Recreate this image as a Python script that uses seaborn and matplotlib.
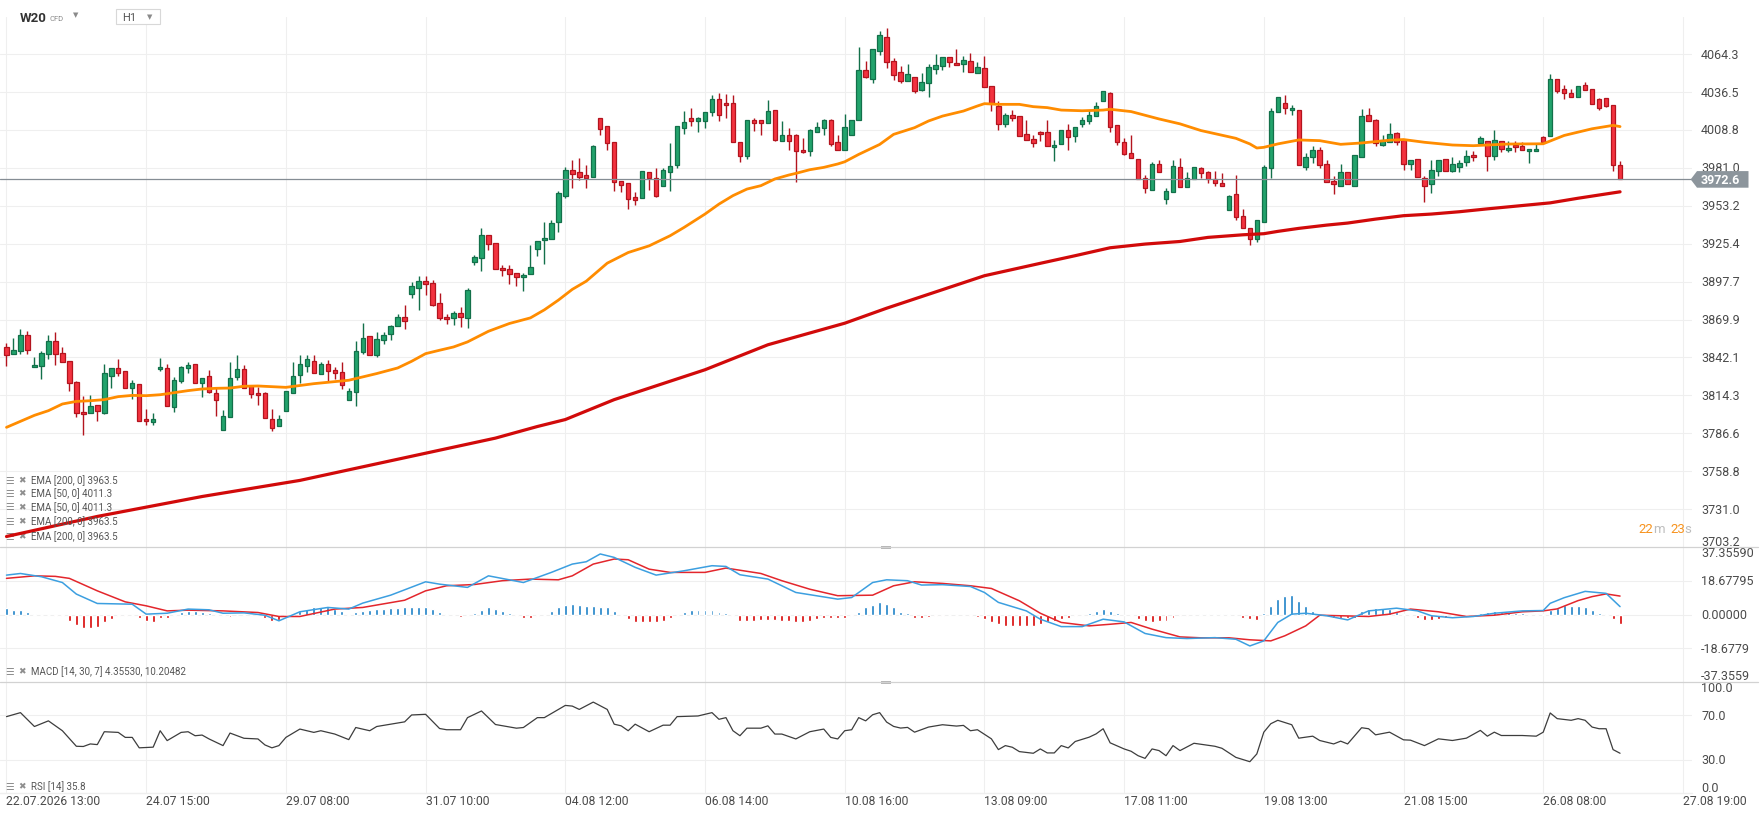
import numpy as np
import pandas as pd
import matplotlib
matplotlib.use("Agg")
import matplotlib.pyplot as plt
import matplotlib.transforms as mtransforms
from matplotlib.patches import Polygon, Rectangle
from matplotlib.lines import Line2D
import seaborn as sns

# hourly candles (oldest first)
opens = [
    3849.6, 3844.5, 3846.6, 3858.4, 3834.9, 3835.6, 3844.5, 3854.0, 3845.2, 3839.3,
    3823.9, 3801.9, 3801.1, 3807.0, 3801.1, 3828.3, 3834.2, 3832.0, 3819.5, 3822.4,
    3796.7, 3794.5, 3833.4, 3834.2, 3805.5, 3824.6, 3834.2, 3837.1, 3823.2, 3828.3,
    3815.8, 3788.7, 3798.2, 3827.6, 3833.4, 3821.0, 3815.8, 3815.8, 3796.7, 3791.6,
    3802.6, 3816.1, 3829.0, 3835.9, 3839.6, 3830.0, 3837.4, 3833.0, 3831.5, 3810.7,
    3816.8, 3846.2, 3857.9, 3844.0, 3855.0, 3859.4, 3865.3, 3872.1, 3888.7, 3893.1,
    3897.8, 3896.8, 3882.1, 3871.9, 3871.1, 3874.8, 3871.1, 3912.2, 3915.2, 3932.1,
    3926.2, 3907.8, 3907.1, 3904.2, 3901.2, 3903.4, 3921.8, 3928.4, 3928.6, 3941.6,
    3960.6, 3979.2, 3977.8, 3975.6, 3974.6, 4017.4, 4011.5, 3999.8, 3971.2, 3969.7,
    3959.4, 3959.2, 3977.8, 3973.4, 3968.0, 3977.8, 3983.4, 4010.6, 4017.4, 4015.2,
    4015.7, 4021.8, 4031.4, 4028.4, 4028.4, 3999.8, 3989.5, 4015.9, 4015.9, 4013.7,
    4023.3, 4000.5, 4004.9, 4004.9, 3993.9, 3993.2, 4007.1, 4010.1, 4015.8, 4000.2,
    3994.3, 4005.3, 4016.3, 4053.0, 4046.4, 4067.0, 4077.3, 4059.7, 4051.6, 4045.0,
    4047.9, 4038.4, 4043.5, 4053.8, 4056.0, 4062.6, 4058.2, 4057.4, 4059.7, 4050.8,
    4054.5, 4041.3, 4026.6, 4013.4, 4020.0, 4019.3, 4006.0, 4002.4, 4007.5, 4007.5,
    3996.5, 3998.7, 4009.0, 4004.6, 4013.4, 4015.6, 4019.3, 4030.3, 4036.2, 4012.3,
    3999.8, 3991.7, 3987.3, 3973.4, 3964.6, 3983.6, 3958.0, 3963.1, 3981.4, 3966.8,
    3972.6, 3980.7, 3977.8, 3972.6, 3969.7, 3949.9, 3961.6, 3945.5, 3936.7, 3928.6,
    3941.1, 3980.7, 4021.8, 4028.4, 4023.3, 4023.3, 3981.4, 3988.8, 3993.9, 3983.6,
    3971.2, 3967.5, 3977.8, 3967.5, 3988.8, 4019.6, 4015.9, 3997.6, 3999.8, 4006.4,
    4001.3, 3983.6, 3987.3, 3973.4, 3969.0, 3978.5, 3987.3, 3978.5, 3981.4, 3985.1,
    3990.3, 3999.1, 4000.5, 3989.4, 4000.7, 3994.1, 3997.7, 3997.0, 3993.3, 3993.3,
    4003.6, 4004.3, 4046.4, 4038.8, 4035.9, 4033.0, 4041.8, 4038.8, 4031.5, 4032.2,
    4027.1, 3983.5,
]
highs = [
    3852.8, 3856.4, 3863.0, 3861.3, 3842.2, 3846.6, 3858.6, 3860.8, 3849.6, 3839.3,
    3824.6, 3813.6, 3814.3, 3807.0, 3837.1, 3834.2, 3840.8, 3832.0, 3825.4, 3822.4,
    3804.1, 3801.1, 3841.5, 3837.1, 3827.6, 3835.6, 3838.6, 3837.1, 3826.8, 3832.7,
    3820.2, 3803.3, 3838.6, 3843.7, 3836.4, 3821.0, 3820.2, 3816.6, 3804.1, 3799.6,
    3817.3, 3838.8, 3844.2, 3844.2, 3844.2, 3838.8, 3840.3, 3835.2, 3838.8, 3819.7,
    3854.2, 3867.0, 3857.9, 3860.4, 3860.8, 3866.2, 3873.6, 3880.2, 3897.1, 3901.5,
    3901.9, 3899.0, 3889.0, 3873.6, 3876.5, 3879.2, 3892.7, 3917.4, 3936.7, 3932.1,
    3926.2, 3910.0, 3910.0, 3904.2, 3904.2, 3924.2, 3927.6, 3941.6, 3942.8, 3964.1,
    3981.4, 3986.8, 3988.0, 3982.9, 3997.6, 4017.4, 4011.5, 3999.8, 3971.2, 3969.7,
    3963.1, 3978.5, 3977.8, 3980.7, 3980.7, 3999.3, 4011.5, 4022.8, 4024.8, 4018.2,
    4021.8, 4034.5, 4036.0, 4035.3, 4034.5, 3999.8, 4015.9, 4017.4, 4015.9, 4030.6,
    4023.3, 4015.2, 4010.1, 4005.7, 4002.7, 4009.3, 4014.5, 4016.7, 4016.6, 4005.3,
    4020.7, 4016.3, 4069.9, 4059.7, 4068.5, 4081.7, 4083.9, 4061.9, 4056.0, 4057.4,
    4047.9, 4050.8, 4057.4, 4064.8, 4062.6, 4062.6, 4068.5, 4063.3, 4065.5, 4058.9,
    4063.3, 4041.3, 4030.0, 4021.5, 4023.7, 4019.3, 4016.3, 4005.3, 4008.3, 4016.3,
    4001.7, 4009.0, 4013.4, 4011.2, 4018.5, 4023.7, 4029.6, 4037.6, 4036.9, 4012.3,
    4002.7, 4004.9, 3987.3, 3975.6, 3985.1, 3986.6, 3966.0, 3986.6, 3988.0, 3977.8,
    3981.4, 3981.4, 3978.5, 3978.5, 3977.0, 3960.9, 3975.6, 3950.6, 3936.7, 3942.5,
    3982.9, 4024.8, 4032.8, 4034.3, 4027.0, 4023.3, 3991.7, 3996.9, 3996.1, 3986.6,
    3974.8, 3983.6, 3977.8, 3990.3, 4024.0, 4024.8, 4016.7, 4004.9, 4013.7, 4007.1,
    4001.3, 3986.6, 3987.3, 3974.8, 3986.6, 3986.6, 3987.3, 3988.8, 3986.6, 3993.9,
    3993.2, 4004.2, 4001.0, 4009.0, 4000.7, 4000.7, 4000.7, 3999.9, 3994.8, 3998.5,
    4004.3, 4050.1, 4046.4, 4041.8, 4038.8, 4041.1, 4044.0, 4038.8, 4032.2, 4032.2,
    4027.1, 3985.8,
]
lows = [
    3836.1, 3844.5, 3844.9, 3844.9, 3834.9, 3826.6, 3841.3, 3836.9, 3838.6, 3817.8,
    3798.2, 3785.0, 3801.1, 3795.7, 3800.4, 3819.5, 3828.3, 3819.5, 3811.4, 3795.3,
    3792.3, 3792.3, 3832.0, 3806.3, 3801.9, 3823.2, 3830.5, 3823.2, 3812.9, 3815.8,
    3798.9, 3788.7, 3798.2, 3825.4, 3819.5, 3812.1, 3807.0, 3797.5, 3787.9, 3791.6,
    3802.6, 3816.1, 3823.2, 3831.5, 3830.7, 3830.0, 3824.6, 3826.1, 3818.8, 3810.7,
    3806.3, 3844.5, 3844.0, 3842.5, 3852.0, 3855.0, 3865.3, 3863.0, 3885.8, 3876.8,
    3887.8, 3879.9, 3869.9, 3866.7, 3865.7, 3864.3, 3863.5, 3910.0, 3905.6, 3920.8,
    3907.1, 3902.0, 3896.1, 3894.6, 3891.0, 3903.4, 3916.6, 3910.8, 3928.6, 3934.2,
    3959.2, 3966.5, 3972.4, 3966.5, 3974.6, 4005.4, 3994.4, 3964.3, 3963.6, 3951.1,
    3954.0, 3958.7, 3965.0, 3959.9, 3968.0, 3964.3, 3980.7, 4006.2, 4012.0, 4007.6,
    4010.6, 4019.4, 4015.7, 4017.4, 3999.8, 3985.6, 3987.3, 4008.4, 4005.4, 4013.7,
    4000.5, 4000.5, 3994.4, 3970.9, 3991.7, 3989.5, 4007.1, 4004.9, 3997.0, 3994.3,
    3994.3, 4005.3, 4016.3, 4047.2, 4043.5, 4064.1, 4054.5, 4045.7, 4043.5, 4045.0,
    4036.2, 4037.6, 4033.2, 4050.1, 4053.0, 4055.2, 4056.7, 4051.6, 4051.6, 4050.8,
    4040.6, 4022.7, 4008.8, 4011.2, 4015.6, 4004.6, 4001.7, 3996.5, 4000.9, 3997.3,
    3986.2, 3998.7, 3994.3, 4000.2, 4011.2, 4013.4, 4019.3, 4030.3, 4007.5, 3997.6,
    3990.3, 3988.0, 3972.6, 3962.4, 3964.6, 3977.8, 3954.3, 3963.1, 3966.8, 3966.8,
    3972.6, 3973.4, 3969.7, 3967.5, 3967.5, 3949.9, 3942.5, 3936.7, 3924.2, 3926.4,
    3941.1, 3973.4, 4021.8, 4020.3, 4019.6, 3982.9, 3979.2, 3984.4, 3980.7, 3970.4,
    3961.6, 3967.5, 3969.0, 3967.5, 3988.8, 4015.2, 3996.9, 3996.9, 3999.8, 3997.6,
    3979.2, 3979.2, 3974.1, 3955.7, 3962.4, 3974.8, 3978.5, 3977.8, 3977.8, 3982.2,
    3985.9, 3999.1, 3978.5, 3986.5, 3992.6, 3992.6, 3992.6, 3994.1, 3984.3, 3993.3,
    3999.9, 4004.3, 4035.9, 4031.5, 4033.0, 4033.0, 4038.1, 4027.8, 4023.4, 4025.6,
    3978.4, 3972.6,
]
closes = [
    3844.2, 3847.4, 3858.4, 3847.4, 3836.4, 3845.2, 3854.0, 3844.5, 3838.6, 3823.2,
    3801.1, 3800.4, 3806.3, 3802.6, 3830.5, 3834.2, 3830.5, 3819.5, 3823.2, 3795.3,
    3795.3, 3796.7, 3834.9, 3806.3, 3825.4, 3834.9, 3836.4, 3823.2, 3826.8, 3816.6,
    3810.7, 3798.9, 3826.8, 3833.4, 3819.5, 3815.1, 3814.3, 3797.5, 3790.1, 3796.7,
    3817.3, 3828.5, 3837.4, 3841.0, 3830.7, 3837.4, 3832.2, 3830.7, 3821.7, 3817.3,
    3846.9, 3856.4, 3844.0, 3855.7, 3858.6, 3864.8, 3872.1, 3868.9, 3894.6, 3897.8,
    3895.8, 3880.9, 3871.1, 3870.4, 3874.8, 3871.9, 3891.9, 3915.9, 3932.1, 3925.4,
    3907.1, 3906.4, 3903.4, 3901.2, 3902.7, 3908.6, 3927.6, 3929.9, 3940.3, 3962.4,
    3979.2, 3976.8, 3974.6, 3973.9, 3996.9, 4009.8, 3999.1, 3970.4, 3968.7, 3958.4,
    3957.7, 3978.5, 3973.9, 3960.6, 3979.5, 3982.2, 4011.5, 4014.5, 4015.2, 4017.4,
    4021.8, 4031.4, 4019.6, 4027.0, 3999.8, 3989.5, 4015.9, 4013.7, 4013.7, 4022.6,
    4001.8, 4004.9, 4000.5, 3993.2, 3992.5, 4008.6, 4010.8, 4015.9, 3998.7, 3994.3,
    4011.2, 4016.3, 4053.0, 4047.9, 4068.5, 4078.7, 4058.9, 4049.4, 4045.0, 4050.1,
    4037.6, 4044.2, 4055.2, 4056.7, 4062.6, 4058.9, 4056.7, 4060.4, 4051.6, 4055.2,
    4040.6, 4028.8, 4013.4, 4020.0, 4017.8, 4004.6, 4001.7, 3999.5, 4006.0, 3997.3,
    3998.0, 4009.0, 4003.9, 4011.2, 4016.3, 4020.0, 4026.6, 4037.6, 4011.2, 3999.8,
    3991.0, 3988.0, 3972.6, 3966.0, 3983.6, 3977.8, 3963.8, 3982.2, 3966.8, 3973.4,
    3981.4, 3977.0, 3972.6, 3969.7, 3967.5, 3960.2, 3944.7, 3936.7, 3928.6, 3942.5,
    3981.4, 4022.6, 4032.8, 4024.8, 4024.8, 3982.9, 3988.8, 3993.9, 3982.9, 3970.4,
    3969.0, 3977.8, 3969.0, 3990.3, 4018.9, 4015.2, 3999.1, 4001.3, 4005.7, 3999.8,
    3983.6, 3986.6, 3974.1, 3967.5, 3979.2, 3986.6, 3978.5, 3983.6, 3984.4, 3989.5,
    3988.8, 4002.7, 3989.5, 4001.4, 3994.8, 3995.5, 3996.3, 3994.1, 3994.8, 3994.8,
    3999.9, 4046.4, 4037.4, 4035.9, 4033.0, 4041.1, 4038.1, 4027.8, 4024.9, 4026.4,
    3982.8, 3972.6,
]

# moving averages, sampled along the drawn curves (bar index, value)
ema50_idx = [0, 2, 4, 6, 8, 10, 12, 14, 16, 18, 20, 22, 24, 26, 28, 30, 32, 34, 36, 38, 40,
             44, 49, 53, 56, 58, 60, 62, 64, 66, 69, 72, 75, 77, 79, 81, 83, 86, 89, 92, 95,
             97, 100, 102, 104, 106, 108, 110, 112, 113, 115, 117, 119, 120, 122, 125, 127,
             130, 132, 134, 137, 139, 140, 142, 145, 147, 149, 151, 154, 157, 158, 161, 165,
             168, 171, 176, 178, 179, 180, 182, 185, 188, 191, 194, 198, 200, 203, 207, 210,
             212, 215, 220, 223, 227, 230, 231]
ema50_val = [3790.9, 3795.3, 3799.7, 3803.1, 3808.0, 3809.9, 3810.4, 3811.2, 3813.4, 3814.3,
             3814.1, 3814.8, 3816.3, 3817.8, 3819.0, 3819.5, 3819.7, 3821.0, 3821.2, 3820.7,
             3820.2, 3822.9, 3825.4, 3830.3, 3834.4, 3839.3, 3844.9, 3847.4, 3849.8, 3853.5,
             3861.3, 3867.0, 3871.1, 3877.0, 3884.1, 3892.0, 3898.0, 3911.2, 3919.0, 3923.9,
             3931.3, 3937.4, 3947.2, 3954.5, 3960.7, 3965.5, 3968.0, 3972.9, 3975.8, 3977.0,
             3979.7, 3981.4, 3983.9, 3985.5, 3990.9, 3998.2, 4005.6, 4010.5, 4015.4, 4019.0,
             4022.7, 4026.4, 4028.1, 4027.6, 4027.6, 4025.9, 4025.2, 4023.4, 4022.9, 4023.4,
             4024.0, 4022.3, 4016.9, 4013.3, 4008.4, 4002.7, 3998.6, 3995.6, 3996.1, 3998.6,
             4001.5, 4001.0, 3998.3, 3999.3, 4001.3, 4001.8, 3999.8, 3997.8, 3997.3, 3997.8,
             3998.5, 3998.7, 4004.8, 4009.7, 4012.2, 4011.3]
ema200_idx = [0, 13, 28, 42, 70, 76, 80, 87, 100, 109, 120, 126, 131, 140, 148, 153, 158, 163,
              168, 172, 177, 180, 182, 185, 189, 192, 196, 200, 204, 208, 212, 221, 225, 231]
ema200_val = [3710.9, 3725.6, 3740.2, 3752.0, 3783.0, 3791.5, 3796.6, 3811.2, 3833.1, 3851.4,
              3867.2, 3878.2, 3886.7, 3902.0, 3911.1, 3916.7, 3922.5, 3925.2, 3927.1, 3930.1,
              3932.0, 3932.8, 3934.5, 3936.7, 3939.1, 3940.6, 3943.5, 3946.0, 3947.2, 3948.9,
              3951.0, 3955.4, 3958.8, 3963.5]

# MACD [14, 30, 7]
macd_idx = [0, 2, 5, 8, 10, 13, 18, 20, 23, 26, 29, 31, 34, 37, 39, 42, 46, 49, 51, 55, 60,
            62, 66, 69, 74, 78, 81, 83, 85, 87, 90, 93, 97, 101, 103, 105, 109, 113, 119, 121,
            124, 126, 129, 131, 134, 138, 140, 142, 146, 148, 151, 154, 157, 160, 163, 166,
            169, 173, 176, 178, 180, 182, 184, 186, 189, 192, 195, 199, 202, 204, 207, 210,
            213, 217, 220, 221, 223, 226, 229, 231]
macd_val = [21.8, 22.7, 20.9, 17.7, 11.3, 6.1, 5.7, 0.2, 0.7, 3.0, 2.6, 0.7, 0.9, -0.4, -3.5,
            1.5, 3.9, 3.0, 6.3, 10.7, 18.1, 16.8, 15.0, 21.4, 17.7, 23.3, 27.9, 29.2, 33.5,
            31.6, 26.1, 21.8, 24.2, 27.0, 26.6, 22.0, 19.6, 12.2, 8.5, 9.4, 17.7, 19.2, 18.7,
            16.3, 16.5, 15.5, 12.2, 6.7, 2.0, -2.6, -6.7, -6.7, -2.6, -4.1, -10.5, -12.8,
            -13.3, -12.8, -13.7, -17.4, -14.6, -4.4, 0.2, 0.7, -0.7, -3.0, 2.0, 3.5, 2.0,
            -0.7, -1.8, -1.1, 0.7, 2.0, 2.2, 6.2, 9.3, 12.8, 11.7, 4.36]
signal_idx = [0, 4, 7, 9, 13, 17, 20, 23, 26, 31, 36, 39, 42, 47, 51, 57, 60, 63, 67, 71, 75,
              79, 81, 84, 87, 89, 92, 95, 100, 103, 108, 111, 115, 119, 124, 127, 130, 134,
              138, 141, 145, 148, 151, 155, 158, 161, 164, 168, 171, 175, 178, 181, 183, 186,
              188, 191, 195, 198, 201, 205, 209, 213, 217, 220, 222, 225, 227, 229, 231]
signal_val = [20.0, 21.4, 21.1, 20.0, 13.1, 7.0, 4.8, 2.0, 2.4, 2.0, 1.1, -1.1, -1.1, 3.0,
              3.9, 7.9, 13.1, 15.9, 16.6, 18.7, 19.6, 19.2, 21.4, 27.9, 30.7, 30.3, 25.1,
              23.3, 23.3, 25.7, 22.7, 18.7, 14.0, 10.4, 10.7, 15.9, 18.1, 17.2, 15.9, 14.4,
              7.6, 0.7, -4.4, -6.3, -5.4, -4.4, -8.1, -12.4, -12.9, -12.9, -14.0, -14.6,
              -11.8, -6.3, -0.4, -0.7, -1.1, 0.2, 3.0, 1.5, -1.1, -0.4, 1.5, 2.0, 3.1, 7.7,
              9.9, 11.4, 10.2]
hist = [
    3.5, 2.6, 2.4, 1.5, 0.3, -0.3, -0.4, -0.6, -1.0, -3.5,
    -5.9, -7.2, -7.6, -6.7, -4.1, -2.6, -0.6, -0.6, -0.3, -1.7,
    -3.7, -4.1, -2.2, -1.7, -0.7, 1.5, 2.0, 2.0, 1.5, 0.7,
    0.2, -1.1, -1.5, -0.3, 0.2, 0.3, -0.3, -2.2, -3.5, -3.0,
    -1.5, 0.3, 2.0, 3.3, 3.9, 3.9, 3.9, 3.0, 2.0, 0.3,
    1.5, 2.0, 2.4, 3.0, 3.3, 3.5, 3.7, 3.9, 4.3, 4.4,
    4.4, 3.3, 1.5, 0.2, -0.4, -1.5, -0.4, 1.1, 2.6, 3.9,
    3.3, 2.0, 1.1, -0.7, -1.8, -1.8, -1.1, -0.4, 2.0, 3.9,
    5.4, 5.7, 5.4, 4.8, 4.8, 4.4, 4.3, 2.0, -0.4, -2.6,
    -4.4, -4.4, -4.4, -4.4, -3.5, -2.2, -0.2, 1.5, 2.4, 2.6,
    2.6, 2.4, 1.5, 0.7, -1.1, -3.5, -3.5, -3.5, -3.1, -3.0,
    -3.0, -3.5, -3.7, -4.1, -4.4, -3.5, -2.6, -2.0, -2.0, -2.2,
    -2.2, -1.1, 1.5, 3.9, 5.5, 6.7, 5.7, 3.9, 1.5, 0.7,
    -1.7, -1.7, -1.3, -1.1, -0.7, -0.2, -0.2, -0.3, -1.1, -1.5,
    -2.6, -4.1, -5.4, -6.3, -6.3, -6.3, -6.3, -6.3, -5.4, -4.4,
    -3.5, -2.6, -1.8, -1.1, -0.2, 1.1, 2.0, 3.0, 2.0, 0.7,
    -0.2, -1.1, -2.6, -3.7, -4.1, -3.7, -3.5, -1.7, -1.1, -0.7,
    -0.2, 0.3, 0.3, 0.3, 0.3, 0.3, -0.2, -1.7, -2.6, -3.1,
    0.7, 4.8, 8.5, 10.4, 10.7, 7.6, 4.8, 2.0, -1.1, -1.1,
    -1.7, -2.2, -2.2, -1.7, 2.0, 3.3, 3.5, 3.5, 3.0, 1.5,
    0.3, -1.1, -2.2, -3.0, -3.0, -2.6, -1.8, -1.1, -0.2, 0.2,
    0.2, 1.1, 1.3, 1.8, 1.3, 1.3, 0.9, 0.7, 0.4, 0.2,
    0.2, 2.6, 3.7, 5.1, 4.9, 4.6, 4.0, 2.6, 0.9, 0.4,
    -2.7, -5.5,
]

# RSI [14]
rsi_idx = [0, 2, 4, 6, 8, 10, 11, 12, 13, 14, 16, 17, 18, 19, 21, 22, 23, 25, 26, 27, 28, 29,
           31, 32, 34, 36, 37, 38, 39, 40, 42, 44, 45, 47, 49, 50, 52, 53, 55, 57, 58, 60, 62,
           63, 65, 66, 68, 70, 73, 74, 76, 77, 80, 81, 82, 84, 86, 87, 88, 89, 90, 92, 94, 95,
           96, 99, 101, 102, 103, 104, 105, 106, 108, 109, 110, 111, 113, 115, 117, 118, 119,
           120, 121, 122, 123, 124, 125, 126, 127, 128, 129, 130, 132, 134, 136, 137, 138,
           139, 141, 142, 143, 144, 145, 147, 148, 149, 150, 151, 152, 153, 155, 156, 157,
           158, 160, 161, 162, 163, 164, 165, 166, 167, 168, 170, 173, 174, 176, 178, 179,
           180, 181, 182, 184, 185, 187, 188, 190, 191, 192, 194, 195, 196, 198, 200, 201,
           203, 205, 207, 209, 211, 212, 213, 214, 217, 219, 220, 221, 222, 224, 225, 226,
           227, 228, 229, 230, 231]
rsi_val = [68.8, 72.4, 59.9, 65.0, 56.1, 42.1, 41.9, 44.2, 43.6, 55.2, 54.6, 50.1, 50.1, 40.7,
           41.3, 56.1, 47.2, 54.6, 55.2, 51.6, 52.2, 48.7, 42.7, 54.0, 49.3, 48.7, 43.3, 40.7,
           42.7, 50.1, 57.6, 54.6, 56.1, 53.1, 48.1, 59.0, 56.1, 59.9, 62.0, 64.1, 70.3, 70.9,
           58.1, 57.0, 57.0, 67.9, 73.9, 61.7, 58.4, 59.0, 67.9, 67.9, 78.9, 78.3, 75.3, 81.9,
           75.3, 62.0, 60.5, 56.1, 62.0, 55.2, 61.1, 61.1, 68.8, 69.4, 72.4, 66.4, 67.9, 56.1,
           51.6, 58.4, 58.4, 60.5, 53.1, 53.1, 48.7, 55.2, 57.6, 50.1, 48.7, 56.1, 57.0, 67.9,
           65.0, 70.5, 72.4, 63.9, 60.0, 58.5, 59.1, 54.8, 59.4, 61.5, 60.3, 60.9, 56.1, 57.0,
           48.8, 39.1, 42.7, 41.2, 37.3, 35.8, 39.7, 36.1, 36.1, 42.7, 40.6, 46.4, 50.3, 53.3,
           57.9, 45.2, 39.7, 37.6, 33.6, 31.2, 39.7, 38.2, 33.6, 42.7, 38.2, 44.8, 42.1, 40.3,
           32.1, 28.2, 35.2, 54.8, 62.4, 65.5, 61.5, 49.4, 51.2, 47.3, 44.2, 46.7, 44.2, 58.8,
           57.9, 52.4, 54.8, 47.9, 47.6, 42.7, 48.8, 47.3, 49.4, 56.4, 51.2, 54.8, 51.8, 51.8,
           51.2, 54.8, 72.1, 67.0, 65.5, 67.0, 65.5, 59.4, 57.9, 57.9, 39.1, 35.8]

date_idx = [0, 20, 40, 60, 80, 100, 120, 140, 160, 180, 200, 220, 240]
date_labels = ['22.07.2026 13:00', '24.07 15:00', '29.07 08:00', '31.07 10:00', '04.08 12:00',
               '06.08 14:00', '10.08 16:00', '13.08 09:00', '17.08 11:00', '19.08 13:00',
               '21.08 15:00', '26.08 08:00', '27.08 19:00']
price_ticks = ['4064.3', '4036.5', '4008.8', '3981.0', '3953.2', '3925.4', '3897.7',
               '3869.9', '3842.1', '3814.3', '3786.6', '3758.8', '3731.0', '3703.2']
macd_ticks = ['37.35590', '18.67795', '0.00000', '-18.6779', '-37.3559']
macd_tick_vals = [37.3559, 18.67795, 0.0, -18.67795, -37.3559]
rsi_ticks = ['100.0', '70.0', '30.0', '0.0']
legend_rows = ['EMA [200, 0] 3963.5', 'EMA [50, 0] 4011.3', 'EMA [50, 0] 4011.3',
               'EMA [200, 0] 3963.5', 'EMA [200, 0] 3963.5']

GRID = '#efefef'
TXT = '#4a4a4a'
ICON = '#8e8e8e'
G_FILL, G_EDGE = '#22a36c', '#13704a'
R_FILL, R_EDGE = '#f3323f', '#b3141e'

sns.set_theme(style="white")
plt.rcParams['font.family'] = ['Roboto', 'DejaVu Sans']

fig = plt.figure(figsize=(17.61, 8.20), dpi=100)
W = 1692 / 1761
ax = fig.add_axes([0, 272 / 820, W, 530 / 820])
ax_m = fig.add_axes([0, 137 / 820, W, 135 / 820])
ax_r = fig.add_axes([0, 26 / 820, W, 111 / 820])

for a in (ax, ax_m, ax_r):
    a.set_xlim(-0.93, 241.3)
    a.set_xticks([])
    a.set_yticks([])
    a.set_facecolor('white')
    for s in a.spines.values():
        s.set_visible(False)
    for g in date_idx:
        a.axvline(g, color=GRID, lw=0.8, zorder=0)

# ---- price panel
ax.set_ylim(3703.2, 3703.2 + 530 * 27.775 / 37.9)
for t in price_ticks[:-1]:
    ax.axhline(float(t), color=GRID, lw=0.8, zorder=0)

df = pd.DataFrame({'o': opens, 'h': highs, 'l': lows, 'c': closes})
df['x'] = np.arange(len(df))
up = (df.c >= df.o).values
ax.vlines(df.x, df.l, df.h, colors=np.where(up, G_EDGE, R_EDGE), lw=1.0, zorder=2)
ax.bar(df.x, (df.c - df.o).abs().clip(lower=0.6), bottom=df[['o', 'c']].min(axis=1),
       width=0.64, color=np.where(up, G_FILL, R_FILL),
       edgecolor=np.where(up, G_EDGE, R_EDGE), linewidth=0.9, zorder=3)

last = closes[-1]
ax.axhline(last, color='#858d94', lw=0.9, zorder=4)
sns.lineplot(x=ema200_idx, y=ema200_val, ax=ax, color='#d10a0a', lw=2.3, zorder=5, legend=False)
sns.lineplot(x=ema50_idx, y=ema50_val, ax=ax, color='#ff8c00', lw=2.0, zorder=6, legend=False)


def right_labels(a, vals, labels, shifts):
    tr = mtransforms.blended_transform_factory(a.transAxes, a.transData)
    for v, lab, dy in zip(vals, labels, shifts):
        a.annotate(lab, xy=(1, v), xycoords=tr, xytext=(9, dy), textcoords='offset pixels',
                   ha='left', va='center', fontsize=9, color=TXT, annotation_clip=False)


def panel_legend(a, rows, offsets):
    for lab, dy in zip(rows, offsets):
        a.annotate('☰', xy=(0, 0), xycoords='axes fraction', xytext=(5, dy),
                   textcoords='offset pixels', ha='left', va='center', fontsize=7,
                   color=ICON, family='DejaVu Sans')
        a.annotate('✖', xy=(0, 0), xycoords='axes fraction', xytext=(18.5, dy),
                   textcoords='offset pixels', ha='left', va='center', fontsize=6.5,
                   color=ICON, family='DejaVu Sans')
        a.annotate(lab, xy=(0, 0), xycoords='axes fraction', xytext=(31, dy),
                   textcoords='offset pixels', ha='left', va='center', fontsize=7,
                   color='#555555', zorder=7)


right_labels(ax, [float(t) for t in price_ticks], price_ticks,
             [0] * (len(price_ticks) - 1) + [6])

# last price tag
tr = mtransforms.blended_transform_factory(ax.transAxes, ax.transData)
hh = 8.3 * (ax.get_ylim()[1] - ax.get_ylim()[0]) / 530
tag = Polygon([(1690.7 / 1692, last), (1697 / 1692, last + hh), (1748.5 / 1692, last + hh),
               (1748.5 / 1692, last - hh), (1697 / 1692, last - hh)], closed=True,
              transform=tr, facecolor='#8c959c', edgecolor='none', clip_on=False, zorder=10)
ax.add_patch(tag)
ax.annotate(f'{last:.1f}', xy=(1, last), xycoords=tr, xytext=(9, 0), textcoords='offset pixels',
            ha='left', va='center', fontsize=9, color='white', fontweight='bold',
            annotation_clip=False, zorder=11)

panel_legend(ax, legend_rows, [67.3, 54.0, 40.7, 26.3, 11.3])

# countdown
for txt, dx, col in [('22', -53.3, '#f7931e'), ('m', -38.7, '#bdbdbd'),
                     ('23', -22.0, '#f7931e'), ('s', -8.0, '#bdbdbd')]:
    ax.annotate(txt, xy=(1, 0), xycoords='axes fraction', xytext=(dx, 18.7),
                textcoords='offset pixels', ha='left', va='center', fontsize=9.5, color=col)

# ---- MACD panel
ax_m.set_ylim(-37.3559, 37.3559)
for v in macd_tick_vals[1:-1]:
    ax_m.axhline(v, color=GRID, lw=0.8, zorder=0)
hx = np.arange(len(hist))
hv = np.array(hist)
ax_m.bar(hx, hv, width=0.42, color=np.where(hv >= 0, '#1a7fc6', '#d80000'), zorder=3)
sns.lineplot(x=signal_idx, y=signal_val, ax=ax_m, color='#e3262c', lw=1.1, zorder=4, legend=False)
sns.lineplot(x=macd_idx, y=macd_val, ax=ax_m, color='#3c9fe0', lw=1.1, zorder=5, legend=False)
right_labels(ax_m, macd_tick_vals, macd_ticks, [-6, 0, 0, 0, 6])
panel_legend(ax_m, ['MACD [14, 30, 7] 4.35530, 10.20482'], [11.3])

# ---- RSI panel
ax_r.set_ylim(0, 100)
for v in (70, 30):
    ax_r.axhline(v, color=GRID, lw=0.8, zorder=0)
ax_r.axhline(0, color=GRID, lw=1.0, zorder=0, clip_on=False)
sns.lineplot(x=rsi_idx, y=rsi_val, ax=ax_r, color='#3d3d3d', lw=0.9, zorder=4, legend=False)
right_labels(ax_r, [100, 70, 30, 0], rsi_ticks, [-6, 0, 0, 5])
panel_legend(ax_r, ['RSI [14] 35.8'], [7.3])

# dates under the last panel
trd = mtransforms.blended_transform_factory(ax_r.transData, ax_r.transAxes)
for i, lab in zip(date_idx, date_labels):
    ax_r.annotate(lab, xy=(i, 0), xycoords=trd, xytext=(0, -8), textcoords='offset pixels',
                  ha='left', va='center', fontsize=8.7, color=TXT, annotation_clip=False)

# panel separators and handles
for ypx in (548, 683):
    fig.add_artist(Line2D([0, 1758 / 1761], [1 - ypx / 820] * 2, color='#d2d2d2', lw=0.9))
    fig.add_artist(Rectangle((881 / 1761, 1 - (ypx + 1.5) / 820), 10 / 1761, 3 / 820,
                             facecolor='#b5b5b5', edgecolor='none'))

# header
fig.text(20 / 1761, 1 - 18 / 820, 'W20', ha='left', va='center', fontsize=9.5,
         fontweight='bold', color='#333333')
fig.text(49 / 1761, 1 - 19.3 / 820, 'CFD', ha='left', va='center', fontsize=5.5, color='#8a8a8a')
fig.text(73 / 1761, 1 - 15.5 / 820, '▼', ha='left', va='center', fontsize=5, color='#8a8a8a',
         family='DejaVu Sans')
fig.add_artist(Rectangle((116.3 / 1761, 1 - 25.3 / 820), 43.4 / 1761, 15.3 / 820,
                         facecolor='white', edgecolor='#d8d8d8', lw=0.8))
fig.text(122 / 1761, 1 - 18.3 / 820, 'H1', ha='left', va='center', fontsize=8, color='#555555')
fig.text(147 / 1761, 1 - 17 / 820, '▼', ha='left', va='center', fontsize=5, color='#8a8a8a',
         family='DejaVu Sans')

fig.savefig('out.png', dpi=100, facecolor='white')
